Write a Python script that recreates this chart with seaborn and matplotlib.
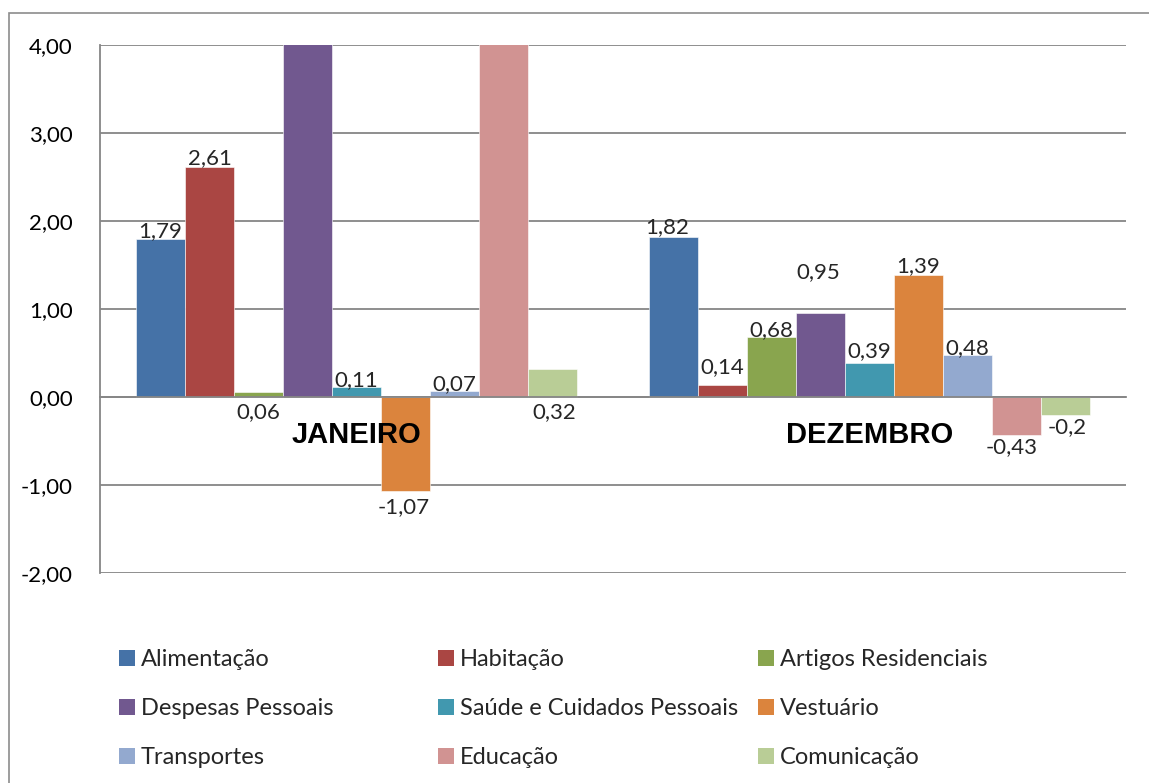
import matplotlib
matplotlib.use("Agg")
import matplotlib.pyplot as plt
import seaborn as sns
import pandas as pd
from matplotlib.patches import Rectangle, Patch
from matplotlib.ticker import FuncFormatter, FixedLocator

# ---------------- data ----------------
months = ["JANEIRO", "DEZEMBRO"]
categories = ["Alimentação", "Habitação", "Artigos Residenciais",
              "Despesas Pessoais", "Saúde e Cuidados Pessoais", "Vestuário",
              "Transportes", "Educação", "Comunicação"]
jan_values = [1.79, 2.61, 0.06, 4.50, 0.11, -1.07, 0.07, 4.50, 0.32]
dez_values = [1.82, 0.14, 0.68, 0.95, 0.39, 1.39, 0.48, -0.43, -0.20]
label_texts_jan = ["1,79", "2,61", "0,06", None, "0,11", "-1,07", "0,07", None, "0,32"]
label_texts_dez = ["1,82", "0,14", "0,68", "0,95", "0,39", "1,39", "0,48", "-0,43", "-0,2"]
y_ticks = [-2, -1, 0, 1, 2, 3, 4]

colors = ["#4572A7", "#AA4643", "#89A54E", "#71588F", "#4198AF",
          "#DB843D", "#93A9CF", "#D19392", "#B9CD96"]

# ------------- styling / positions (px) -------------
W, H = 1149, 783
FONT = ["Lato", "DejaVu Sans"]
PX = 72 / 100  # px -> pt
VAL_FS = 16
LEG_FS = 17

# label placement tweaks (dx px, dy px, mode)
label_tweaks = {
    ("JANEIRO", "Artigos Residenciais"): (0, -5, "below_zero"),
    ("JANEIRO", "Comunicação"): (2, -5, "below_zero"),
    ("JANEIRO", "Vestuário"): (-2, -6, None),
    ("JANEIRO", "Alimentação"): (0, 2, None),
    ("JANEIRO", "Habitação"): (0, 3, None),
    ("DEZEMBRO", "Alimentação"): (-6, 4, None),
    ("DEZEMBRO", "Habitação"): (0, 12, None),
    ("DEZEMBRO", "Despesas Pessoais"): (-2, 35, None),
    ("DEZEMBRO", "Saúde e Cuidados Pessoais"): (0, 6, None),
    ("DEZEMBRO", "Vestuário"): (0, 3, None),
    ("DEZEMBRO", "Educação"): (-5, -2, None),
    ("DEZEMBRO", "Comunicação"): (2, -2, None),
}

sns.set_theme(style="white")
plt.rcParams["font.family"] = FONT

df = pd.DataFrame({
    "Mês": [m for m in months for _ in categories],
    "Categoria": categories * len(months),
    "Valor": jan_values + dez_values,
})

fig = plt.figure(figsize=(W / 100, H / 100), dpi=100)
fig.patch.set_facecolor("white")
# outer chart frame
fig.patches.append(Rectangle((9 / W, -0.05), 1.2, 1 - 13 / H + 0.05,
                             transform=fig.transFigure, fill=False,
                             edgecolor="#8C8C8C", linewidth=1.2, zorder=0))

ax = fig.add_axes([100 / W, 1 - 573 / H, (1126 - 100) / W, (573 - 45) / H])
ax.set_facecolor("none")

sns.barplot(data=df, x="Mês", y="Valor", hue="Categoria", order=months,
            hue_order=categories, palette=colors, width=0.86, saturation=1,
            edgecolor="white", linewidth=0.4, legend=False, ax=ax, zorder=2)

ax.set_ylim(-2, 4)
ax.set_xlim(-0.5, 1.5)
ax.set_xlabel("")
ax.set_ylabel("")
ax.yaxis.set_major_locator(FixedLocator(y_ticks))
ax.yaxis.set_major_formatter(FuncFormatter(lambda v, p: f"{v:.2f}".replace(".", ",")))
ax.grid(axis="y", color="#868686", linewidth=1.3, zorder=0)
ax.set_axisbelow(True)

for s in ["top", "right"]:
    ax.spines[s].set_visible(False)
ax.spines["left"].set_color("#868686")
ax.spines["left"].set_linewidth(1.3)
ax.spines["bottom"].set_position(("data", 0))
ax.spines["bottom"].set_color("#868686")
ax.spines["bottom"].set_linewidth(1.3)
ax.spines["bottom"].set_zorder(3)

ax.tick_params(axis="y", which="major", length=8 * PX, width=1.3, color="#868686",
               direction="out", pad=19 * PX, labelsize=VAL_FS, labelcolor="black")
ax.set_xticks([0, 1])
ax.set_xticklabels(months, fontweight="bold", fontsize=21,
                   family=["Liberation Sans", "DejaVu Sans"])
ax.tick_params(axis="x", which="major", length=0, pad=17, labelcolor="black")
ax.set_xticks([0.5, 1.5], minor=True)
ax.tick_params(axis="x", which="minor", length=8 * PX, width=1.3,
               color="#868686", direction="out")
ax.xaxis.set_zorder(6)

# data labels
all_labels = [label_texts_jan, label_texts_dez]
all_values = [jan_values, dez_values]
ymin, ymax = ax.get_ylim()
for ci, cont in enumerate(ax.containers):
    cat = categories[ci]
    for mi, bar in enumerate(cont):
        month = months[mi]
        val = all_values[mi][ci]
        txt = all_labels[mi][ci]
        if txt is None or val > ymax:
            continue
        x = bar.get_x() + bar.get_width() / 2
        dx, dy, mode = label_tweaks.get((month, cat), (0, 1 if val >= 0 else -2, None))
        if mode == "below_zero":
            ax.annotate(txt, (x, 0), xytext=(dx * PX, dy * PX), textcoords="offset points",
                        ha="center", va="top", fontsize=VAL_FS, zorder=5)
        elif val >= 0:
            ax.annotate(txt, (x, val), xytext=(dx * PX, dy * PX), textcoords="offset points",
                        ha="center", va="baseline", fontsize=VAL_FS, zorder=5)
        else:
            ax.annotate(txt, (x, val), xytext=(dx * PX, dy * PX), textcoords="offset points",
                        ha="center", va="top", fontsize=VAL_FS, zorder=5)

# legend: three fixed columns (Excel style)
col_x = [119, 438, 758]
for c in range(3):
    idxs = [c, c + 3, c + 6]
    handles = [Patch(facecolor=colors[i], edgecolor="none") for i in idxs]
    labels = [categories[i] for i in idxs]
    fig.legend(handles, labels, loc="upper left",
               bbox_to_anchor=(col_x[c] / W, 1 - 649 / H),
               frameon=False, fontsize=LEG_FS, handlelength=0.68, handleheight=0.68,
               handletextpad=0.25, labelspacing=1.19, borderpad=0, borderaxespad=0)

fig.savefig("out.png", dpi=100)
